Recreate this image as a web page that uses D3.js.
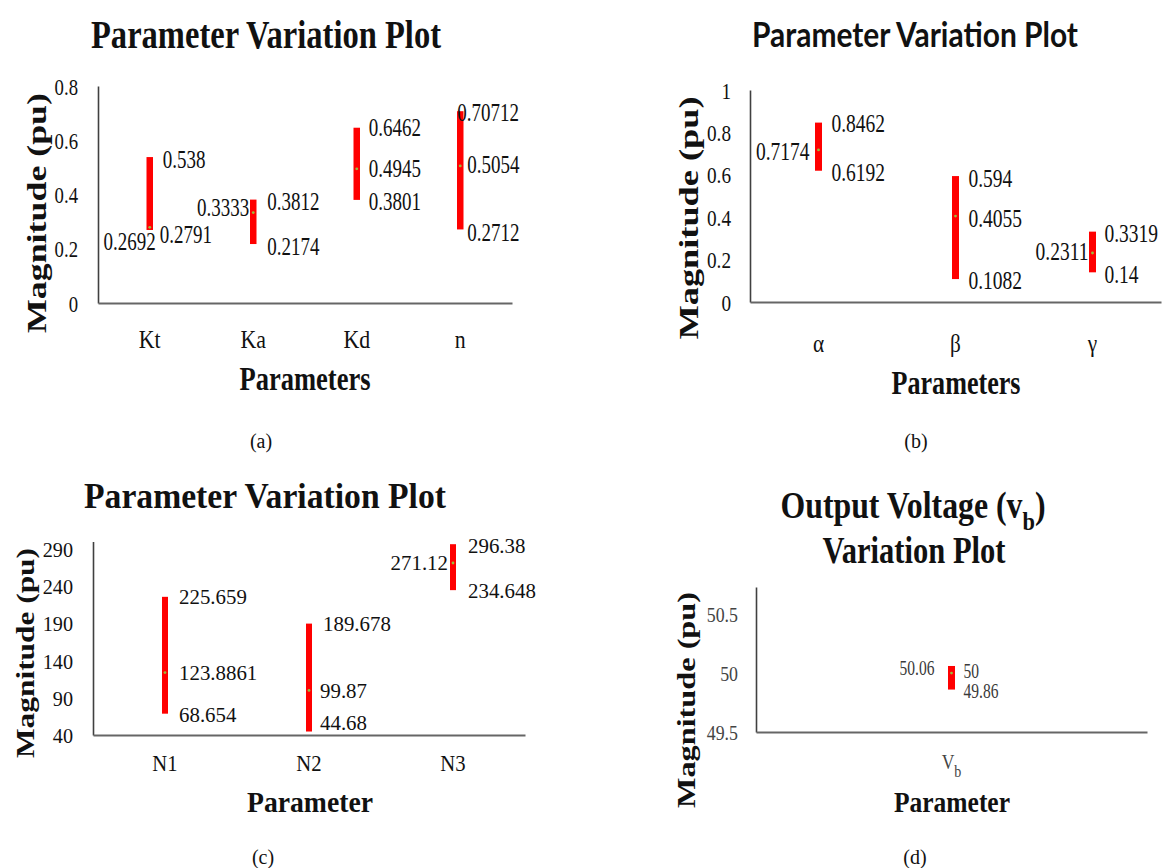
<!DOCTYPE html>
<html><head><meta charset="utf-8">
<script src="https://cdn.jsdelivr.net/npm/d3@7"></script>
<style>
html,body{margin:0;padding:0;background:#fff;}
svg{display:block;}
</style></head><body>
<svg id="fig" width="1163" height="868"></svg>
<script>
// (a) controller gains
const catsA = ["Kt", "Ka", "Kd", "n"];
const minA = [0.2692, 0.2174, 0.3801, 0.2712];
const meanA = [0.2791, 0.3333, 0.4945, 0.5054];
const maxA = [0.538, 0.3812, 0.6462, 0.70712];
const ticksA = [0, 0.2, 0.4, 0.6, 0.8];

// (b) weighting factors
const catsB = ["α", "β", "γ"];
const minB = [0.6192, 0.1082, 0.14];
const meanB = [0.7174, 0.4055, 0.2311];
const maxB = [0.8462, 0.594, 0.3319];
const ticksB = [0, 0.2, 0.4, 0.6, 0.8, 1];

// (c) turns
const catsC = ["N1", "N2", "N3"];
const minC = [68.654, 44.68, 234.648];
const meanC = [123.8861, 99.87, 271.12];
const maxC = [225.659, 189.678, 296.38];
const ticksC = [40, 90, 140, 190, 240, 290];

// (d) output voltage
const catsD = ["Vb"];
const minD = [49.86];
const meanD = [50];
const maxD = [50.06];
const ticksD = [49.5, 50, 50.5];

const SERIF = "'Liberation Serif', 'Times New Roman', serif";
const SANS = "Lato, 'Open Sans', sans-serif";
const svg = d3.select("#fig");

// label placement: [anchor, dx from bar centre, dy from value]
const placeA = [
  { max: ["s", 13, 2], mean: ["s", 10, 7], min: ["e", 6, 12] },
  { max: ["s", 14, 2], mean: ["e", -4, -5], min: ["s", 14, 2] },
  { max: ["s", 12, 0], mean: ["s", 12, 0], min: ["s", 12, 2] },
  { max: ["s", -3, 1], mean: ["s", 7, -1], min: ["s", 7, 3] }
];
const placeB = [
  { max: ["s", 13, 1], mean: ["e", -9, 2], min: ["s", 13, 2] },
  { max: ["s", 13, 2], mean: ["s", 13, 2], min: ["s", 13, 1] },
  { max: ["s", 12, 2], mean: ["e", -4, -2], min: ["s", 12, 2] }
];
const placeC = [
  { max: ["s", 14, 0], mean: ["s", 14, 0], min: ["s", 14, 1] },
  { max: ["s", 14, 0], mean: ["s", 11, 0], min: ["s", 11, -9] },
  { max: ["s", 15, 1], mean: ["e", -5, 0], min: ["s", 15, 0] }
];
const placeD = [
  { max: ["e", -17, 2], mean: ["s", 12, -2], min: ["s", 12, 1] }
];

function squeezed(g, x, y, str, o) {
  return g.append("text")
    .attr("transform", `translate(${x},${y}) scale(${o.sx},1)`)
    .attr("text-anchor", o.anchor || "start")
    .attr("dy", o.dy == null ? "0.34em" : o.dy)
    .attr("font-family", o.family || SERIF)
    .attr("font-weight", o.weight || "normal")
    .attr("font-size", o.size)
    .attr("fill", o.color || "#111")
    .text(str);
}

function fitted(g, cx, baseline, str, width, size, family) {
  return g.append("text")
    .attr("x", cx - width / 2).attr("y", baseline)
    .attr("textLength", width).attr("lengthAdjust", "spacingAndGlyphs")
    .attr("font-family", family || SERIF).attr("font-weight", "bold")
    .attr("font-size", size).attr("fill", "#111")
    .text(str);
}

function yTitle(g, bx, cy, len, size, sx) {
  g.append("text")
    .attr("transform", `translate(${bx},${cy}) scale(${sx},1) rotate(-90)`)
    .attr("x", -len / 2).attr("y", 0)
    .attr("textLength", len).attr("lengthAdjust", "spacingAndGlyphs")
    .attr("font-family", SERIF).attr("font-weight", "bold")
    .attr("font-size", size).attr("fill", "#111")
    .text("Magnitude (pu)");
}

function drawPanel(p) {
  const g = svg.append("g");
  const x = d3.scaleBand().domain(p.cats).range([p.x0, p.x1]);
  const y = d3.scaleLinear().domain(p.yDomain).range([p.yBottom, p.yTop]);

  const ya = g.append("g").attr("transform", `translate(${p.x0},0)`)
    .call(d3.axisLeft(y).tickValues(p.ticks).tickSize(0).tickSizeOuter(0).tickFormat(d => String(d)));
  ya.select(".domain").attr("stroke", "#404040").attr("stroke-width", 1.6);
  ya.selectAll(".tick text")
    .attr("x", null).attr("dy", "0.34em")
    .attr("transform", `translate(${p.tickX - p.x0},0) scale(${p.tickSx},1)`)
    .attr("font-family", SERIF).attr("font-size", p.tickSize)
    .attr("fill", p.tickColor || "#111");

  const xa = g.append("g").attr("transform", `translate(0,${p.yBottom})`)
    .call(d3.axisBottom(x).tickSize(0).tickSizeOuter(0));
  xa.select(".domain").attr("stroke", "#666").attr("stroke-width", 2.2);
  xa.selectAll(".tick text")
    .attr("y", 0).attr("dy", "0.34em")
    .attr("transform", `translate(0,${p.catY - p.yBottom}) scale(${p.catSx},1)`)
    .attr("font-family", SERIF).attr("font-size", p.catSize)
    .attr("fill", p.catColor || "#111");
  if (p.subscriptCats) {
    xa.selectAll(".tick text").each(function (d) {
      const t = d3.select(this);
      t.text(null);
      t.append("tspan").text(d.slice(0, 1));
      t.append("tspan").attr("dy", "0.4em").attr("font-size", p.catSize * 0.8).text(d.slice(1));
    });
  }

  const idx = d3.range(p.cats.length);
  const cx = i => x(p.cats[i]) + x.bandwidth() / 2;

  g.selectAll("rect.bar").data(idx).join("rect").attr("class", "bar")
    .attr("x", i => cx(i) - p.barW / 2)
    .attr("width", p.barW)
    .attr("y", i => y(p.max[i]))
    .attr("height", i => y(p.min[i]) - y(p.max[i]))
    .attr("fill", "#ff0000");

  g.selectAll("circle.mean").data(idx).join("circle").attr("class", "mean")
    .attr("cx", i => cx(i)).attr("cy", i => y(p.mean[i])).attr("r", 1.4)
    .attr("fill", "#9bbb3c");

  idx.forEach(i => {
    ["max", "mean", "min"].forEach(k => {
      const [anchor, dx, dy] = p.place[i][k];
      squeezed(g, cx(i) + dx, y(p[k][i]) + dy, String(p[k][i]), {
        anchor: anchor === "e" ? "end" : "start",
        size: p.labelSize, sx: p.labelSx, color: p.labelColor
      });
    });
  });
  return g;
}

// (a)
const gA = drawPanel({
  cats: catsA, min: minA, mean: meanA, max: maxA, ticks: ticksA, place: placeA,
  x0: 98, x1: 512, yDomain: [0, 0.8], yBottom: 303, yTop: 86,
  tickX: 78, tickSize: 24, tickSx: 0.78,
  catY: 339, catSize: 26, catSx: 0.84,
  labelSize: 25, labelSx: 0.76, barW: 6.5
});
fitted(gA, 266, 48, "Parameter Variation Plot", 350, 40);
fitted(gA, 305, 390, "Parameters", 131, 33);
yTitle(gA, 46, 213, 240, 33, 0.85);
squeezed(gA, 261, 441, "(a)", { anchor: "middle", size: 20, sx: 1 });

// (b)
const gB = drawPanel({
  cats: catsB, min: minB, mean: meanB, max: maxB, ticks: ticksB, place: placeB,
  x0: 750, x1: 1161, yDomain: [0, 1], yBottom: 302, yTop: 90,
  tickX: 731, tickSize: 24, tickSx: 0.8,
  catY: 343, catSize: 25, catSx: 0.85,
  labelSize: 25, labelSx: 0.78, barW: 7
});
fitted(gB, 915, 47, "Parameter Variation Plot", 326, 34, SANS);
fitted(gB, 956, 394, "Parameters", 129, 33);
yTitle(gB, 698, 218, 243, 33, 0.85);
squeezed(gB, 916, 441, "(b)", { anchor: "middle", size: 20, sx: 1 });

// (c)
const gC = drawPanel({
  cats: catsC, min: minC, mean: meanC, max: maxC, ticks: ticksC, place: placeC,
  x0: 93, x1: 525, yDomain: [40, 300], yBottom: 735, yTop: 541.5,
  tickX: 73, tickSize: 22, tickSx: 0.92,
  catY: 763, catSize: 23, catSx: 0.9,
  labelSize: 22, labelSx: 0.95, barW: 6
});
fitted(gC, 265, 508, "Parameter Variation Plot", 362, 36);
fitted(gC, 310, 812, "Parameter", 126, 30);
yTitle(gC, 34, 653, 210, 30, 0.85);
squeezed(gC, 263, 857, "(c)", { anchor: "middle", size: 20, sx: 1 });

// (d)
const gD = drawPanel({
  cats: catsD, min: minD, mean: meanD, max: maxD, ticks: ticksD, place: placeD,
  x0: 756, x1: 1147, yDomain: [49.5, 50.73], yBottom: 732, yTop: 587,
  tickX: 738, tickSize: 21, tickSx: 0.85, tickColor: "#444",
  catY: 762, catSize: 22, catSx: 0.8, catColor: "#444", subscriptCats: true,
  labelSize: 21, labelSx: 0.74, labelColor: "#3a3a3a", barW: 7
});
{
  const t = gD.append("text")
    .attr("x", 913 - 265 / 2).attr("y", 518)
    .attr("textLength", 265).attr("lengthAdjust", "spacingAndGlyphs")
    .attr("font-family", SERIF).attr("font-weight", "bold")
    .attr("font-size", 37).attr("fill", "#111");
  t.append("tspan").text("Output Voltage (v");
  t.append("tspan").attr("dy", 12).attr("font-size", 26).text("b");
  t.append("tspan").attr("dy", -12).text(")");
}
fitted(gD, 914, 563, "Variation Plot", 183, 37);
fitted(gD, 952, 812, "Parameter", 116, 30);
yTitle(gD, 695, 700, 216, 30, 0.85);
squeezed(gD, 915, 857, "(d)", { anchor: "middle", size: 20, sx: 1 });
</script>
</body></html>
